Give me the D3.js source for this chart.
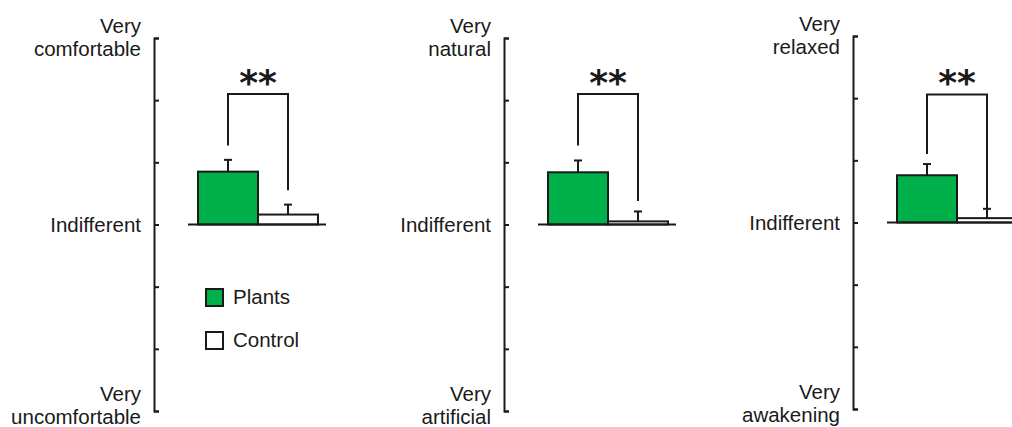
<!DOCTYPE html>
<html lang="en">
<head>
<meta charset="UTF-8">
<title>Ratings</title>
<script src="https://cdn.jsdelivr.net/npm/d3@7"></script>
<style>
  body { margin: 0; background: #fff; }
  text { font-family: "Liberation Sans", Arial, sans-serif; fill: #1a1a1a; }
  .axis path, .axis line { stroke: #1a1a1a; stroke-width: 2; fill: none; }
</style>
</head>
<body>
<script>
// data (scale -3 .. 3, 0 = Indifferent)
const groups = ["Plants", "Control"];
const topLabels = [["Very", "comfortable"], ["Very", "natural"], ["Very", "relaxed"]];
const bottomLabels = [["Very", "uncomfortable"], ["Very", "artificial"], ["Very", "awakening"]];
const midLabel = "Indifferent";
const plantsMean = [0.85, 0.84, 0.76];
const plantsSE = [0.19, 0.19, 0.18];
const controlMean = [0.16, 0.05, 0.07];
const controlSE = [0.16, 0.16, 0.15];
const sigLabel = ["**", "**", "**"];
const bracketTop = [2.1, 2.1, 2.06];
const leftLegEnd = [1.27, 1.27, 1.1];
const rightLegEnd = [0.55, 0.38, 0.23];
const tickVals = [-3, -2, -1, 0, 1, 2, 3];

const w = 1012, h = 427;
const green = "#00b04a";
const axisX = [154, 504, 853];
const yShift = [0, 0, -2];
const fs = 20.5;

const svg = d3.select("body").append("svg")
  .attr("width", w).attr("height", h);

axisX.forEach((ax, i) => {
  const y = d3.scaleLinear().domain([-3, 3]).range([411 + yShift[i], 38 + yShift[i]]);
  const x = d3.scaleBand().domain(groups).range([ax + 44, ax + 164]).paddingInner(0);
  const g = svg.append("g");

  // axis with inward ticks
  g.append("g")
    .attr("class", "axis")
    .attr("transform", "translate(" + ax + ",0)")
    .call(d3.axisRight(y).tickValues(tickVals).tickSize(5).tickSizeOuter(5).tickFormat(""));

  // labels
  const lx = ax - 13;
  g.append("text").attr("x", lx).attr("y", y(3) - 5).attr("text-anchor", "end")
    .attr("font-size", fs).text(topLabels[i][0]);
  g.append("text").attr("x", lx).attr("y", y(3) + 18).attr("text-anchor", "end")
    .attr("font-size", fs).text(topLabels[i][1]);
  g.append("text").attr("x", lx).attr("y", y(0) + 7).attr("text-anchor", "end")
    .attr("font-size", fs).text(midLabel);
  g.append("text").attr("x", lx).attr("y", y(-3) - 10).attr("text-anchor", "end")
    .attr("font-size", fs).text(bottomLabels[i][0]);
  g.append("text").attr("x", lx).attr("y", y(-3) + 13).attr("text-anchor", "end")
    .attr("font-size", fs).text(bottomLabels[i][1]);

  const rows = [
    { k: "Plants", m: plantsMean[i], se: plantsSE[i], fill: green },
    { k: "Control", m: controlMean[i], se: controlSE[i], fill: "#fff" }
  ];

  // error bars
  rows.forEach(d => {
    const cx = x(d.k) + x.bandwidth() / 2;
    g.append("line").attr("x1", cx).attr("x2", cx)
      .attr("y1", y(d.m)).attr("y2", y(d.m + d.se))
      .attr("stroke", "#1a1a1a").attr("stroke-width", 2);
    g.append("line").attr("x1", cx - 4).attr("x2", cx + 4)
      .attr("y1", y(d.m + d.se)).attr("y2", y(d.m + d.se))
      .attr("stroke", "#1a1a1a").attr("stroke-width", 2);
  });

  // bars
  g.selectAll("rect.bar").data(rows).enter().append("rect")
    .attr("class", "bar")
    .attr("x", d => x(d.k))
    .attr("y", d => y(d.m))
    .attr("width", x.bandwidth())
    .attr("height", d => y(0) - y(d.m))
    .attr("fill", d => d.fill)
    .attr("stroke", "#1a1a1a").attr("stroke-width", 2);

  // baseline
  g.append("line").attr("x1", ax + 34).attr("x2", ax + 172)
    .attr("y1", y(0)).attr("y2", y(0))
    .attr("stroke", "#1a1a1a").attr("stroke-width", 2);

  // significance bracket
  const xl = x("Plants") + x.bandwidth() / 2;
  const xr = x("Control") + x.bandwidth() / 2;
  g.append("path")
    .attr("d", "M" + xl + "," + y(leftLegEnd[i]) + "V" + y(bracketTop[i]) +
      "H" + xr + "V" + y(rightLegEnd[i]))
    .attr("fill", "none").attr("stroke", "#1a1a1a").attr("stroke-width", 2);
  g.append("text").attr("x", (xl + xr) / 2).attr("y", y(bracketTop[i]) + 1)
    .attr("text-anchor", "middle").attr("font-size", 36).attr("font-weight", "bold")
    .style("font-family", "'DejaVu Sans', sans-serif")
    .text(sigLabel[i]);

  // legend in first panel
  if (i === 0) {
    rows.forEach((d, j) => {
      const ly = 289 + j * 43;
      g.append("rect").attr("x", ax + 52).attr("y", ly).attr("width", 17).attr("height", 17)
        .attr("fill", d.fill).attr("stroke", "#1a1a1a").attr("stroke-width", 2);
      g.append("text").attr("x", ax + 79).attr("y", ly + 15).attr("font-size", fs).text(d.k);
    });
  }
});
</script>
</body>
</html>
